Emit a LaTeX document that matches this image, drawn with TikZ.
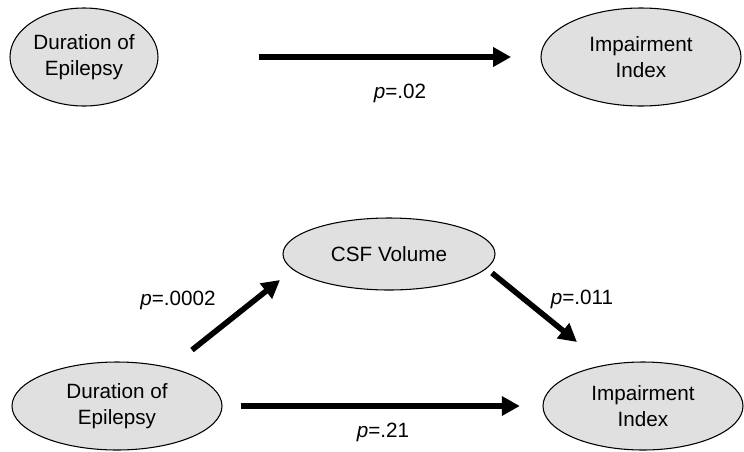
\documentclass[tikz,border=0pt]{standalone}
\usepackage{fontspec}
\setmainfont{Liberation Sans}
\usetikzlibrary{shapes.geometric,arrows.meta}
\begin{document}
\begin{tikzpicture}[x=0.75pt,y=-0.75pt,
        oval/.style={ellipse,draw,fill=black!12,line width=0.8pt,inner sep=0pt,
            align=center,font=\fontsize{15.5}{20}\selectfont},
        effect/.style={line width=4.2pt,-{Triangle[length=13.5pt,width=14pt]}},
        pval/.style={font=\fontsize{15.5}{20}\selectfont}]
            \useasboundingbox (0,0) rectangle (744,451);
            % total effect
            \node[oval,minimum width=111pt,minimum height=73.5pt] (dur1) at (84,57) {Duration of\\Epilepsy};
            \node[oval,minimum width=150pt,minimum height=73.5pt] (imp1) at (641,57) {Impairment\\Index};
            \draw[effect,shorten <=75pt,shorten >=22pt] (dur1) -- (imp1);
            \node[pval] (p1) at (400,93) {\textit{p}=.02};
            % mediated
            \node[oval,minimum width=159pt,minimum height=54pt] (csf) at (389,254) {CSF Volume};
            \node[oval,minimum width=157.5pt,minimum height=66pt] (dur2) at (117,406) {Duration of\\Epilepsy};
            \node[oval,minimum width=150pt,minimum height=66pt] (imp2) at (643,406) {Impairment\\Index};
            \draw[effect] ([shift={(75,-56)}]dur2.center) -- ([shift={(-109,26)}]csf.center);
            \draw[effect] ([shift={(103,19)}]csf.center) -- ([shift={(-66,-64)}]imp2.center);
            \draw[effect,shorten <=13.5pt,shorten >=17pt] (dur2) -- (imp2);
            \node[pval] (p2) at (178,300) {\textit{p}=.0002};
            \node[pval] (p3) at (582,299) {\textit{p}=.011};
            \node[pval] (p4) at (383,432) {\textit{p}=.21};
        \end{tikzpicture}
\end{document}
